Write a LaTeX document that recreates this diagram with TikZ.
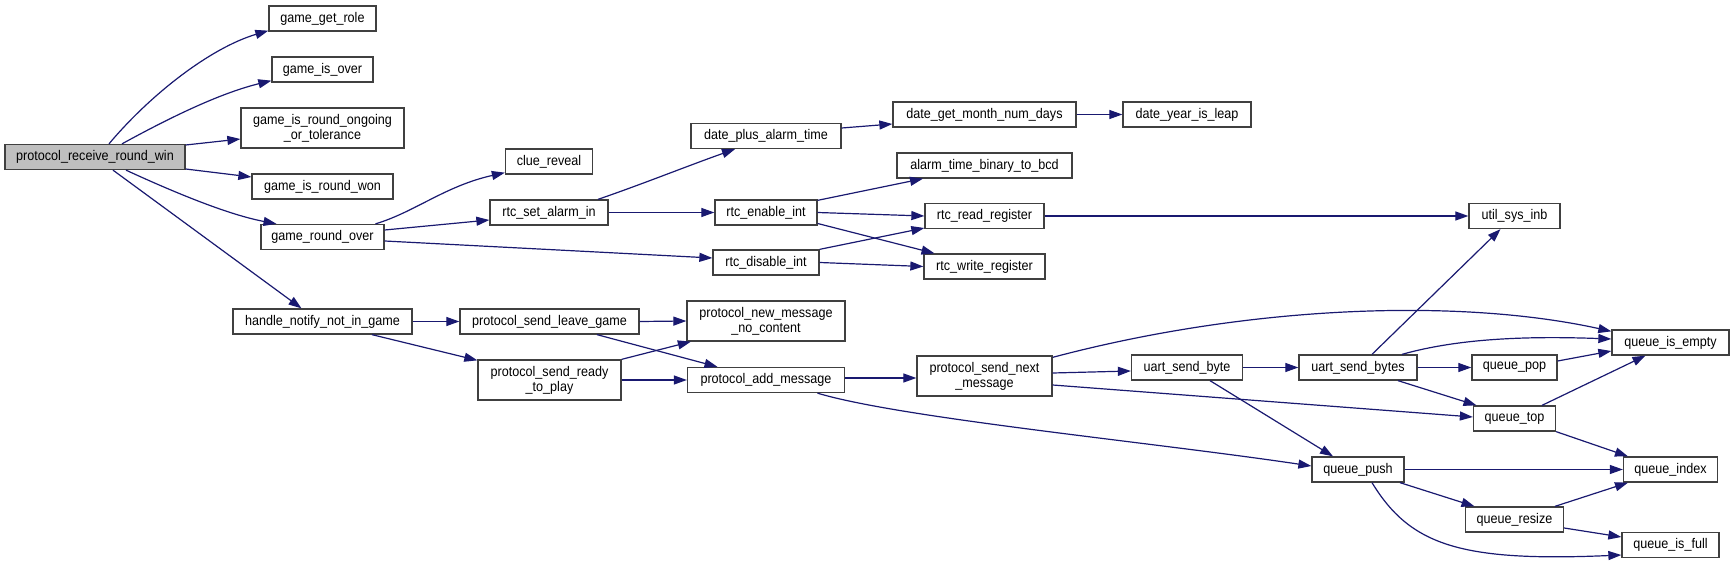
\documentclass[tikz,border=0pt]{standalone}
\usepackage{fontspec}
\setmainfont{Liberation Sans}[FakeStretch=0.9]
\usepackage{tikz}
\usetikzlibrary{positioning,arrows.meta}
\usepackage{xcolor}
\definecolor{edgeblue}{HTML}{191970}
\definecolor{rootgray}{HTML}{BFBFBF}

\begin{document}
\begin{tikzpicture}[x=1pt,y=-1pt,
  fn/.style={draw=black!75,line width=1.3pt,fill=white,inner sep=0pt,minimum height=25pt,align=center,font=\fontsize{14}{15}\selectfont},
  fntwo/.style={fn,minimum height=40pt},
  call/.style={draw=edgeblue,line width=1.2pt,-{Triangle[length=13pt,width=9pt]}}]
\useasboundingbox (0,0) rectangle (1735,564);
\node (prrw) [fn,fill=rootgray,minimum width=180pt] at (95,157) {protocol\_receive\_round\_win};
\node (ggr) [fn,minimum width=107pt] at (322.5,18.5) {game\_get\_role};
\node (gio) [fn,minimum width=101pt] at (322.5,69.5) {game\_is\_over};
\node (giro) [fntwo,minimum width=163pt] at (322.5,128) {game\_is\_round\_ongoing\\\_or\_tolerance};
\node (girw) [fn,minimum width=141pt] at (322.5,186.5) {game\_is\_round\_won};
\node (gro) [fn,minimum width=123pt] at (322.5,237) {game\_round\_over};
\node (hnnig) [fn,minimum width=179pt] at (322.5,321.5) {handle\_notify\_not\_in\_game};
\node (clue) [fn,minimum width=87pt] at (549,161.5) {clue\_reveal};
\node (rsai) [fn,minimum width=118pt] at (549,212.5) {rtc\_set\_alarm\_in};
\node (pslg) [fn,minimum width=179pt] at (549.5,321.5) {protocol\_send\_leave\_game};
\node (psrtp) [fntwo,minimum width=143pt] at (549.5,380) {protocol\_send\_ready\\\_to\_play};
\node (dpat) [fn,minimum width=150pt] at (766,136) {date\_plus\_alarm\_time};
\node (rei) [fn,minimum width=102pt] at (766,212.5) {rtc\_enable\_int};
\node (rdi) [fn,minimum width=106pt] at (766,262.5) {rtc\_disable\_int};
\node (pnmnc) [fntwo,minimum width=158pt] at (766,321) {protocol\_new\_message\\\_no\_content};
\node (pam) [fn,minimum width=157pt] at (766,380) {protocol\_add\_message};
\node (dgmnd) [fn,minimum width=183pt] at (984.5,114.5) {date\_get\_month\_num\_days};
\node (atbtb) [fn,minimum width=175pt] at (984.5,165.5) {alarm\_time\_binary\_to\_bcd};
\node (rrr) [fn,minimum width=119pt] at (984.5,216) {rtc\_read\_register};
\node (rwr) [fn,minimum width=121pt] at (984.5,266.5) {rtc\_write\_register};
\node (psnm) [fntwo,minimum width=135pt] at (984.5,376) {protocol\_send\_next\\\_message};
\node (dyil) [fn,minimum width=128pt] at (1187,114.5) {date\_year\_is\_leap};
\node (usb) [fn,minimum width=111pt] at (1187,367.5) {uart\_send\_byte};
\node (usbs) [fn,minimum width=118pt] at (1358,367.5) {uart\_send\_bytes};
\node (qpush) [fn,minimum width=92pt] at (1358,469.5) {queue\_push};
\node (usi) [fn,minimum width=91pt] at (1514.5,216) {util\_sys\_inb};
\node (qpop) [fn,minimum width=85pt] at (1514.5,367.5) {queue\_pop};
\node (qtop) [fn,minimum width=82pt] at (1514.5,418.5) {queue\_top};
\node (qres) [fn,minimum width=98pt] at (1514.5,519.5) {queue\_resize};
\node (qie) [fn,minimum width=117pt] at (1670.5,342.5) {queue\_is\_empty};
\node (qidx) [fn,minimum width=94pt] at (1670.5,469.5) {queue\_index};
\node (qfull) [fn,minimum width=97pt] at (1670.5,545) {queue\_is\_full};

\draw[call] ([xshift=14pt]prrw.north) .. controls (150,95) and (210,48) .. ([yshift=1pt]ggr.south west);
\draw[call] ([xshift=27pt]prrw.north) .. controls (180,112) and (225,92) .. ([yshift=2pt]gio.south west);
\draw[call] ([yshift=12pt]prrw.east) -- ([yshift=-11pt]giro.west);
\draw[call] ([yshift=-12pt]prrw.east) -- ([yshift=9.5pt]girw.west);
\draw[call] ([xshift=31pt]prrw.south) .. controls (180,195) and (230,215) .. ([xshift=-46pt]gro.north);
\draw[call] ([xshift=18pt]prrw.south) -- ([xshift=-21pt]hnnig.north);
\draw[call] ([xshift=53pt]gro.north) .. controls (415,212) and (445,186) .. ([yshift=2pt]clue.south west);
\draw[call] ([yshift=7pt]gro.east) -- ([yshift=-7.5pt]rsai.west);
\draw[call] ([yshift=-4pt]gro.east) -- ([yshift=4.5pt]rdi.west);
\draw[call] ([xshift=49pt]rsai.north) .. controls (640,185) and (690,165) .. ([xshift=-31pt]dpat.south);
\draw[call] (rsai.east) -- (rei.west);
\draw[call] ([yshift=8pt]dpat.east) -- ([yshift=-9.5pt]dgmnd.west);
\draw[call] (dgmnd.east) -- (dyil.west);
\draw[call] ([yshift=-1pt]rei.north east) -- ([xshift=-61.5pt]atbtb.south);
\draw[call] (rei.east) -- (rrr.west);
\draw[call] ([yshift=-11pt]rei.east) -- ([xshift=-50pt]rwr.north);
\draw[call] (rdi.north east) -- ([yshift=-12pt]rrr.west);
\draw[call] (rdi.east) -- (rwr.west);
\draw[call] (rrr.east) -- (usi.west);
\draw[call] (hnnig.east) -- (pslg.west);
\draw[call] ([xshift=49.5pt]hnnig.south) -- ([yshift=-1pt]psrtp.north west);
\draw[call] (pslg.east) -- (pnmnc.west);
\draw[call] ([xshift=47.5pt]pslg.south) -- ([xshift=-48.5pt]pam.north);
\draw[call] (psrtp.north east) -- ([xshift=4.5pt]pnmnc.south west);
\draw[call] (psrtp.east) -- (pam.west);
\draw[call] ([yshift=2pt]pam.east) -- ([yshift=-2pt]psnm.west);
\draw[call] ([xshift=51.5pt]pam.south) .. controls (900,418) and (1150,442) .. ([yshift=3.5pt]qpush.west);
\draw[call] ([yshift=-2pt]psnm.north east) .. controls (1250,305) and (1460,298) .. ([yshift=-2pt]qie.north west);
\draw[call] ([yshift=3pt]psnm.east) -- ([yshift=-3.5pt]usb.west);
\draw[call] ([yshift=-9pt]psnm.east) -- ([yshift=1.5pt]qtop.west);
\draw[call] (usb.east) -- (usbs.west);
\draw[call] ([xshift=23pt]usb.south) -- ([xshift=-25pt]qpush.north);
\draw[call] ([xshift=14pt]usbs.north) -- ([xshift=-14pt]usi.south);
\draw[call] ([xshift=44pt]usbs.north) .. controls (1460,338) and (1530,336) .. ([yshift=3.5pt]qie.west);
\draw[call] (usbs.east) -- (qpop.west);
\draw[call] ([xshift=40pt]usbs.south) -- ([xshift=-38pt]qtop.north);
\draw[call] ([yshift=6.5pt]qpop.east) -- ([yshift=-8.5pt]qie.west);
\draw[call] ([xshift=27.5pt]qtop.north) -- ([xshift=-25pt]qie.south);
\draw[call] (qtop.south east) -- ([xshift=-42.5pt]qidx.north);
\draw[call] (qpush.east) -- (qidx.west);
\draw[call] ([xshift=42pt]qpush.south) -- ([xshift=-40pt]qres.north);
\draw[call] ([xshift=14pt]qpush.south) .. controls (1410,545) and (1460,562) .. ([yshift=-10pt]qfull.west);
\draw[call] ([xshift=40.5pt]qres.north) -- ([xshift=-42.5pt]qidx.south);
\draw[call] ([yshift=-8.5pt]qres.east) -- ([yshift=8pt]qfull.west);
\end{tikzpicture}
\end{document}
